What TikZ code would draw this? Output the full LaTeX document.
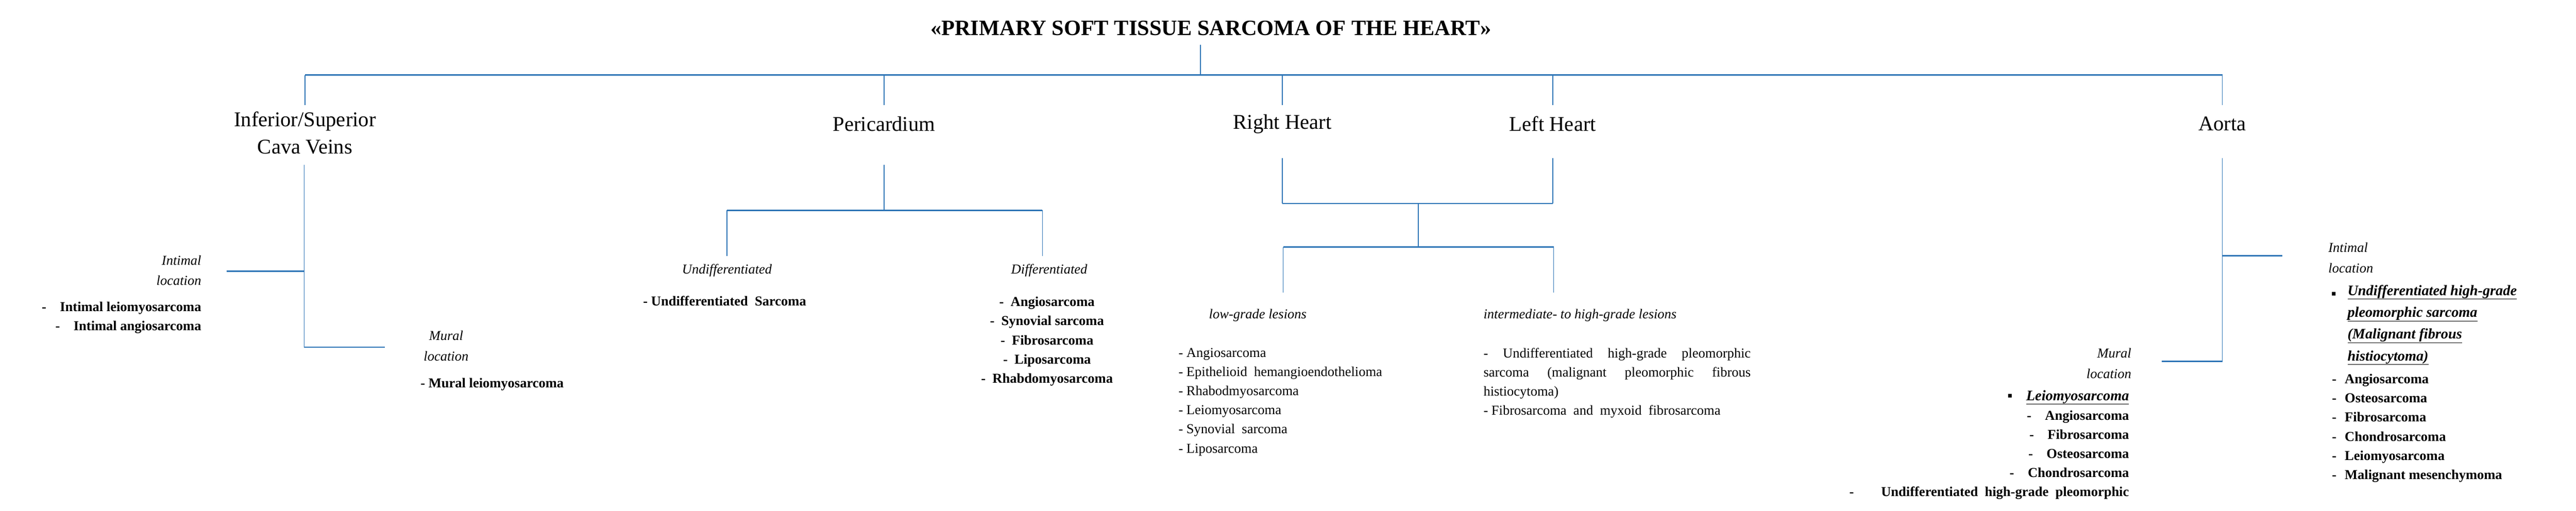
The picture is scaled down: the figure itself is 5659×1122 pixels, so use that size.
\documentclass[tikz,border=0pt]{standalone}
\usepackage{fontspec}
\setmainfont{Liberation Serif}
\definecolor{ln}{HTML}{2E75B6}
\begin{document}
\begin{tikzpicture}[x=1pt,y=-1pt,
  every node/.style={inner sep=0pt,outer sep=0pt},
  thin/.style={draw=ln,line width=1.6pt},
  thick/.style={draw=ln,line width=3pt},
  title/.style={font=\fontsize{48}{58}\selectfont\bfseries},
  lvl/.style={font=\fontsize{46}{60}\selectfont,align=center},
  sub/.style={font=\fontsize{30}{45}\selectfont\itshape},
  item/.style={font=\fontsize{30}{42}\selectfont},
  bitem/.style={font=\fontsize{30}{42}\selectfont\bfseries}]
\useasboundingbox (0,0) rectangle (5659,1122);
% title and level 1
\node[title] (t) at (2660,62) {«PRIMARY SOFT TISSUE SARCOMA OF THE HEART»};
\coordinate (tj) at (2637,165);
\coordinate (jc) at (670,165); \coordinate (jp) at (1942,165);
\coordinate (jr) at (2817,165); \coordinate (jl) at (3411,165); \coordinate (ja) at (4882,165);
\draw[thin] (2637,98) -- (tj);
\draw[thick] (jc) -- (ja);
\node[lvl] (cava) at (670,292) {Inferior/Superior\\Cava Veins};
\node[lvl] (peri) at (1942,272) {Pericardium};
\node[lvl] (rh) at (2817,272) {Right Heart};
\node[lvl] (lh) at (3411,272) {Left Heart};
\node[lvl] (ao) at (4882,272) {Aorta};
\foreach \j in {jc,jp,jr,jl,ja} \draw[thin] (\j) -- ++(0,66);
% cava
\coordinate (ci) at (668,596); \coordinate (cm) at (668,763);
\draw[thin] (668,362) -- (cm);
\coordinate (cie) at (498,596); \coordinate (cme) at (846,763);
\draw[thick] (ci) -- (cie); \draw[thick] (cm) -- (cme);
\node[sub,anchor=east,align=right] (cil) at (442,594) {Intimal\\location};
\node[bitem,anchor=east,align=right] (cit) at (442,698) {-\hspace{30pt}Intimal leiomyosarcoma\\-\hspace{30pt}Intimal angiosarcoma};
\node[sub,align=center] (cml) at (980,760) {Mural\\location};
\node[bitem,anchor=west] (cmt) at (924,844) {- Mural leiomyosarcoma};
% pericardium
\coordinate (pj) at (1942,462); \coordinate (pu) at (1597,462); \coordinate (pd) at (2290,462);
\draw[thin] (1942,362) -- (pj);
\draw[thick] (pu) -- (pd);
\draw[thin] (pu) -- ++(0,100); \draw[thin] (pd) -- ++(0,100);
\node[sub] (pul) at (1597,594) {Undifferentiated};
\node[bitem] (put) at (1592,661) {- Undifferentiated\ \ Sarcoma};
\node[sub] (pdl) at (2305,594) {Differentiated};
\node[bitem,align=center] (pdt) at (2300,750) {-\ \ Angiosarcoma\\-\ \ Synovial sarcoma\\-\ \ Fibrosarcoma\\-\ \ Liposarcoma\\-\ \ Rhabdomyosarcoma};
% heart
\coordinate (hr) at (2817,447); \coordinate (hl) at (3411,447); \coordinate (hm) at (3116,447);
\draw[thin] (2817,347) -- (hr); \draw[thin] (3411,347) -- (hl);
\draw[thick] (hr) -- (hl);
\coordinate (hm2) at (3116,543); \coordinate (hlo) at (2819,543); \coordinate (hhi) at (3413,543);
\draw[thin] (hm) -- (hm2);
\draw[thick] (hlo) -- (hhi);
\draw[thin] (hlo) -- ++(0,100); \draw[thin] (hhi) -- ++(0,100);
\node[sub,anchor=west] (lgl) at (2656,693) {low-grade lesions};
\node[sub,anchor=west] (hgl) at (3259,693) {intermediate- to high-grade lesions};
\node[item,anchor=north west,align=left] (lgt) at (2589,765) {- Angiosarcoma\\- Epithelioid\ \ hemangioendothelioma\\- Rhabodmyosarcoma\\- Leiomyosarcoma\\- Synovial\ \ sarcoma\\- Liposarcoma};
\node[item,anchor=north west,align=left] (hgt) at (3259,765) {\makebox[587pt][s]{- Undifferentiated high-grade pleomorphic}\\\makebox[587pt][s]{sarcoma (malignant pleomorphic fibrous}\\histiocytoma)\\- Fibrosarcoma\ \ and\ \ myxoid\ \ fibrosarcoma};
% aorta
\coordinate (ai) at (4882,562); \coordinate (am) at (4882,794);
\draw[thin] (4882,347) -- (am);
\coordinate (aie) at (5014,562); \coordinate (ame) at (4749,794);
\draw[thick] (ai) -- (aie); \draw[thick] (am) -- (ame);
\node[sub,anchor=west,align=left] (ail) at (5115,566) {Intimal\\location};
\node[font=\fontsize{32}{48}\selectfont\bfseries\itshape,anchor=north west,align=left] (ait) at (5157,626) {\underline{Undifferentiated high-grade}\\\underline{pleomorphic sarcoma}\\\underline{(Malignant fibrous}\\\underline{histiocytoma)}};
\node[font=\fontsize{32}{48}\selectfont\bfseries] (aib) at (5127,649) {▪};
\node[bitem,anchor=north west,align=left] (ait2) at (5123,822) {-\hspace{18pt}Angiosarcoma\\-\hspace{18pt}Osteosarcoma\\-\hspace{18pt}Fibrosarcoma\\-\hspace{18pt}Chondrosarcoma\\-\hspace{18pt}Leiomyosarcoma\\-\hspace{18pt}Malignant mesenchymoma};
\node[sub,anchor=east,align=right] (aml) at (4682,798) {Mural\\location};
\node[font=\fontsize{32}{48}\selectfont\bfseries\itshape,anchor=east] (amt) at (4677,873) {▪\hspace{30pt}\underline{Leiomyosarcoma}};
\node[bitem,anchor=north east,align=right] (amt2) at (4677,902) {-\hspace{30pt}Angiosarcoma\\-\hspace{30pt}Fibrosarcoma\\-\hspace{30pt}Osteosarcoma\\-\hspace{30pt}Chondrosarcoma\\-\hspace{60pt}Undifferentiated\ \ high-grade\ \ pleomorphic};
\end{tikzpicture}
\end{document}
